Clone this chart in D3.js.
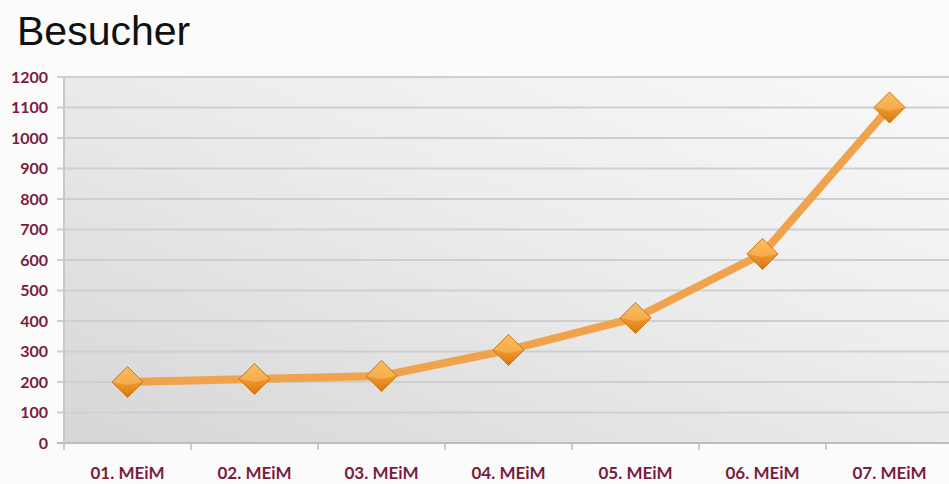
<!DOCTYPE html>
<html>
<head>
<meta charset="utf-8">
<script src="https://cdn.jsdelivr.net/npm/d3@7"></script>
<style>
  body { margin: 0; background: #fbfbfb; }
  svg { display: block; }
</style>
</head>
<body>
<svg width="949" height="484"></svg>
<script>
const categories = ['01. MEiM', '02. MEiM', '03. MEiM', '04. MEiM', '05. MEiM', '06. MEiM', '07. MEiM'];
const besucher = [200, 210, 220, 305, 410, 620, 1100];
const yTicks = [0, 100, 200, 300, 400, 500, 600, 700, 800, 900, 1000, 1100, 1200];

const margin = {top: 77, right: -4, bottom: 41, left: 64};
const W = 949, H = 484;
const svg = d3.select('svg');
const defs = svg.append('defs');

const bg = defs.append('linearGradient').attr('id', 'bg')
  .attr('x1', '0%').attr('y1', '100%').attr('x2', '100%').attr('y2', '0%');
bg.append('stop').attr('offset', '0%').attr('stop-color', '#d6d6d6');
bg.append('stop').attr('offset', '55%').attr('stop-color', '#ececec');
bg.append('stop').attr('offset', '100%').attr('stop-color', '#f9f9f9');

const dia = defs.append('linearGradient').attr('id', 'dia')
  .attr('x1', '0%').attr('y1', '0%').attr('x2', '0%').attr('y2', '100%');
dia.append('stop').attr('offset', '0%').attr('stop-color', '#f8b650');
dia.append('stop').attr('offset', '50%').attr('stop-color', '#f29a2e');
dia.append('stop').attr('offset', '100%').attr('stop-color', '#d27812');

const x = d3.scaleBand().domain(categories)
  .range([margin.left, W - margin.right]);
const y = d3.scaleLinear().domain([0, 1200])
  .range([H - margin.bottom, margin.top]);

svg.append('text')
  .attr('x', 17).attr('y', 45)
  .attr('font-family', 'Liberation Sans, Arial, sans-serif')
  .attr('font-size', 41)
  .attr('fill', '#111')
  .text('Besucher');

svg.append('rect')
  .attr('x', margin.left).attr('y', margin.top)
  .attr('width', W - margin.right - margin.left)
  .attr('height', y(0) - margin.top)
  .attr('fill', 'url(#bg)');

// gridlines
svg.append('g')
  .selectAll('line')
  .data(yTicks)
  .join('line')
  .attr('x1', margin.left - 7).attr('x2', W)
  .attr('y1', d => y(d)).attr('y2', d => y(d))
  .attr('stroke', d => d === 0 ? '#bdbdbd' : '#cfcfcf')
  .attr('stroke-width', 2);

// y axis line
svg.append('line')
  .attr('x1', margin.left).attr('x2', margin.left)
  .attr('y1', margin.top).attr('y2', y(0))
  .attr('stroke', '#c8c8c8').attr('stroke-width', 2);

const labelFont = 'Lato, Open Sans, sans-serif';
const labelColor = '#7a1c3e';

svg.append('g')
  .selectAll('text')
  .data(yTicks)
  .join('text')
  .attr('x', 48)
  .attr('y', d => y(d) + 5.5)
  .attr('text-anchor', 'end')
  .attr('font-family', labelFont)
  .attr('font-weight', 'bold')
  .attr('font-size', 16)
  .attr('fill', labelColor)
  .text(d => d);

// x ticks between categories
svg.append('g')
  .selectAll('line')
  .data(d3.range(categories.length + 1))
  .join('line')
  .attr('x1', i => margin.left + i * x.step())
  .attr('x2', i => margin.left + i * x.step())
  .attr('y1', y(0)).attr('y2', y(0) + 7)
  .attr('stroke', '#bdbdbd').attr('stroke-width', 1.5);

svg.append('g')
  .selectAll('text')
  .data(categories)
  .join('text')
  .attr('x', d => x(d) + x.bandwidth() / 2)
  .attr('y', 479)
  .attr('text-anchor', 'middle')
  .attr('font-family', labelFont)
  .attr('font-weight', 'bold')
  .attr('font-size', 17)
  .attr('fill', labelColor)
  .text(d => d);

const pts = categories.map((c, i) => [x(c) + x.bandwidth() / 2, y(besucher[i])]);

svg.append('path')
  .datum(pts)
  .attr('fill', 'none')
  .attr('stroke', '#f0a24c')
  .attr('stroke-width', 8)
  .attr('stroke-linejoin', 'round')
  .attr('d', d3.line());

const markers = svg.append('g')
  .selectAll('g')
  .data(pts)
  .join('g')
  .attr('transform', d => `translate(${d[0]},${d[1]})`);

markers.append('path')
  .attr('d', 'M0,-15.5 L15.5,0 L0,15.5 L-15.5,0 Z')
  .attr('fill', 'url(#dia)')
  .attr('stroke', '#c9740f')
  .attr('stroke-width', 1);
markers.append('path')
  .attr('d', 'M0,-15 L15,0 L0,3 L-15,0 Z')
  .attr('fill', '#fbc46e')
  .attr('opacity', 0.5);
</script>
</body>
</html>
